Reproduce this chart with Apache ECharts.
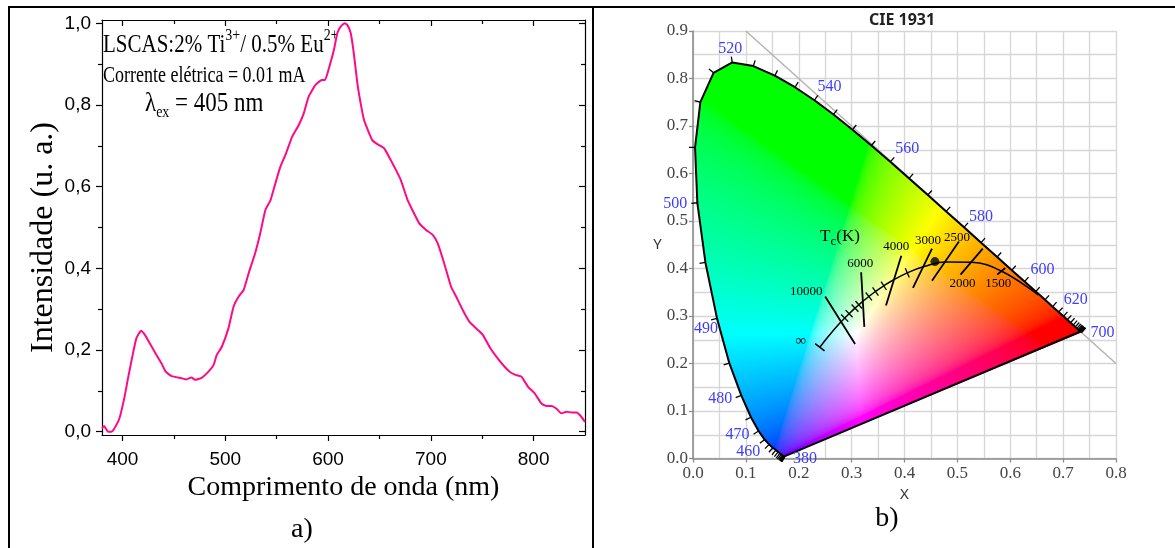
<!DOCTYPE html>
<html><head><meta charset="utf-8">
<script src="https://cdn.jsdelivr.net/npm/echarts@6/dist/echarts.min.js"></script>
<style>html,body{margin:0;padding:0;background:#fff}#c{width:1175px;height:548px}</style>
</head><body><div id="c"></div>
<script>
// ================= Panel a) : emission spectrum =================
const wavelength = [380,382,386,389,392,397,402,405,410,413.5,418,421.7,426.6,433,438,442,447.8,457.5,462,467,470.5,477,483.6,488.5,491.7,496.6,503,508,513,517.8,522.7,529,534,539,544,548.7,553.6,558.5,565,571.5,576.4,581,587.8,594,597,600.8,605.7,609,612.2,616,618.7,622,625,628.5,631.7,635,638,643,648,654.5,661,666,670.8,677.4,682,688.8,695.3,701.8,706.7,713,719.7,724.6,731,737.6,745.8,750.6,757,763.7,771.8,776.7,781.6,788,794.6,801,807.6,812.5,817.4,822,827,832,837,841.8,846,850];
const intensity = [0.008,0.014,0.0,0.0,0.008,0.033,0.086,0.127,0.19,0.229,0.247,0.237,0.216,0.188,0.167,0.147,0.136,0.131,0.128,0.133,0.127,0.132,0.147,0.163,0.188,0.208,0.253,0.306,0.331,0.347,0.388,0.437,0.486,0.543,0.567,0.608,0.649,0.678,0.722,0.751,0.780,0.820,0.849,0.861,0.861,0.890,0.935,0.976,0.992,1.0,0.996,0.976,0.927,0.853,0.804,0.763,0.743,0.714,0.704,0.694,0.665,0.641,0.616,0.567,0.543,0.510,0.494,0.482,0.461,0.412,0.355,0.331,0.298,0.269,0.249,0.237,0.208,0.184,0.159,0.147,0.140,0.135,0.110,0.094,0.069,0.063,0.063,0.057,0.045,0.049,0.047,0.047,0.038,0.024];
const xMajorTicks = [400,500,600,700,800];
const xMinorTicks = [450,550,650,750];
const yMajorTicks = [0,0.2,0.4,0.6,0.8,1.0];
const yTickLabels = ['0,0','0,2','0,4','0,6','0,8','1,0'];
const yMinorTicks = [0.1,0.3,0.5,0.7,0.9];

// ================= Panel b) : CIE 1931 =================
const locusWl = [380,385,390,395,400,405,410,415,420,425,430,435,440,445,450,455,460,465,470,475,480,485,490,495,500,505,510,515,520,525,530,535,540,545,550,555,560,565,570,575,580,585,590,595,600,605,610,615,620,625,630,635,640,645,650,655,660,665,670,675,680,685,690,695,700];
const locusX = [0.1741,0.1740,0.1738,0.1736,0.1733,0.1730,0.1726,0.1721,0.1714,0.1703,0.1689,0.1669,0.1644,0.1611,0.1566,0.1510,0.1440,0.1355,0.1241,0.1096,0.0913,0.0687,0.0454,0.0235,0.0082,0.0039,0.0139,0.0389,0.0743,0.1142,0.1547,0.1929,0.2296,0.2658,0.3016,0.3373,0.3731,0.4087,0.4441,0.4788,0.5125,0.5448,0.5752,0.6029,0.6270,0.6482,0.6658,0.6801,0.6915,0.7006,0.7079,0.7140,0.7190,0.7230,0.7260,0.7283,0.7300,0.7311,0.7320,0.7327,0.7334,0.7340,0.7344,0.7346,0.7347];
const locusY = [0.0050,0.0050,0.0049,0.0049,0.0048,0.0048,0.0048,0.0048,0.0051,0.0058,0.0069,0.0086,0.0109,0.0138,0.0177,0.0227,0.0297,0.0399,0.0578,0.0868,0.1327,0.2007,0.2950,0.4127,0.5384,0.6548,0.7502,0.8120,0.8338,0.8262,0.8059,0.7816,0.7543,0.7243,0.6923,0.6589,0.6245,0.5896,0.5547,0.5202,0.4866,0.4544,0.4242,0.3965,0.3725,0.3514,0.3340,0.3197,0.3083,0.2993,0.2920,0.2859,0.2809,0.2770,0.2740,0.2717,0.2700,0.2689,0.2680,0.2673,0.2666,0.2660,0.2656,0.2654,0.2653];
const labeledWl = [380,460,470,480,490,500,520,540,560,580,600,620,700];
const planckT = ['∞',20000,15000,12000,10000,9000,8000,7000,6500,6000,5500,5000,4500,4000,3500,3000,2500,2000,1500,1000];
const planckX = [0.2399,0.2565,0.2637,0.2719,0.2807,0.2869,0.2952,0.3064,0.3135,0.3221,0.3325,0.3451,0.3608,0.3805,0.4053,0.4369,0.4770,0.5267,0.5857,0.6528];
const planckY = [0.2342,0.2577,0.2673,0.2779,0.2884,0.2956,0.3048,0.3166,0.3237,0.3318,0.3411,0.3516,0.3636,0.3768,0.3907,0.4041,0.4137,0.4133,0.3931,0.3444];
const planckMinorT = [9000,8000,7000,6500,5500,5000,4500,3500];
const isoT  = [10000,6000,4000,3000,2500,2000,1500];
const isoX1 = [0.250,0.318,0.394,0.452,0.503,0.548,0.5905];
const isoY1 = [0.341,0.392,0.427,0.442,0.457,0.442,0.401];
const isoX2 = [0.3065,0.324,0.365,0.416,0.452,0.506,0.5754];
const isoY2 = [0.241,0.277,0.322,0.359,0.374,0.387,0.387];
const sampleX = [0.4575];
const sampleY = [0.4146];
const diagX = [0.1,0.8];
const diagY = [0.9,0.2];

// ================= layout / styles =================
const SERIF = "'Liberation Serif','Times New Roman',serif";
const SANS = "'Liberation Sans',Arial,sans-serif";
const UI = "'Noto Sans','Open Sans',sans-serif";
const PINK = '#ff0a84';
const BLUE = '#3d3dff';
const wlLabelOffset = {380:[20,3],460:[-21,7],470:[-21,4],480:[-21,3],490:[-11,10],500:[-22,1],520:[-2,-14],540:[15,-13],560:[17,-13],580:[17,-11],600:[18,-12],620:[17,-12],700:[21,0]};
const isoLabelOffset = {10000:[1,-19,-5],6000:[1,-1,-9],4000:[1,-5,-9],3000:[1,-4,-8],2500:[1,-2,-4],2000:[2,2,9],1500:[2,1,9]};
// shading: the image's visual white sits lower than D65, so shift before conversion
const WHITE_SHIFT = [0.003, 0.066];

function xyToRGB(x0, y0) {
  const x = x0 + WHITE_SHIFT[0], y = y0 + WHITE_SHIFT[1];
  const X = x / y, Y = 1, Z = (1 - x - y) / y;
  let r = 3.2406*X - 1.5372*Y - 0.4986*Z;
  let g = -0.9689*X + 1.8758*Y + 0.0415*Z;
  let b = 0.0557*X - 0.2040*Y + 1.0570*Z;
  r = Math.max(r,0); g = Math.max(g,0); b = Math.max(b,0);
  const m = Math.max(r,g,b) || 1;
  const gm = c => { c /= m; return c <= 0.0031308 ? 12.92*c : 1.055*Math.pow(c,1/2.4)-0.055; };
  return [gm(r)*255, gm(g)*255, gm(b)*255];
}

let gamutCache = null;
function renderGamut(params, api) {
  const pts = locusX.map((x,i) => api.coord([x, locusY[i]]));
  const p0 = api.coord([0,0]), p1 = api.coord([1,1]);
  const sx = p1[0]-p0[0], sy = p1[1]-p0[1];
  let minX=1e9,minY=1e9,maxX=-1e9,maxY=-1e9;
  pts.forEach(p=>{minX=Math.min(minX,p[0]);minY=Math.min(minY,p[1]);maxX=Math.max(maxX,p[0]);maxY=Math.max(maxY,p[1]);});
  const x0=Math.floor(minX)-1, y0=Math.floor(minY)-1, w=Math.ceil(maxX)-x0+2, h=Math.ceil(maxY)-y0+2;
  if (!gamutCache) {
    const cv = document.createElement('canvas'); cv.width=w; cv.height=h;
    const ctx = cv.getContext('2d');
    const img = ctx.createImageData(w,h);
    for (let j=0;j<h;j++) for (let i=0;i<w;i++) {
      const cx = (x0+i+0.5-p0[0])/sx, cy = (y0+j+0.5-p0[1])/sy;
      const k = (j*w+i)*4;
      if (cy <= 0.001) { img.data[k+3]=0; continue; }
      const c = xyToRGB(cx, cy);
      img.data[k]=c[0]; img.data[k+1]=c[1]; img.data[k+2]=c[2]; img.data[k+3]=255;
    }
    ctx.putImageData(img,0,0);
    ctx.globalCompositeOperation='destination-in';
    ctx.beginPath();
    pts.forEach((p,i)=>{ if(i===0) ctx.moveTo(p[0]-x0,p[1]-y0); else ctx.lineTo(p[0]-x0,p[1]-y0); });
    ctx.closePath(); ctx.fillStyle='#000'; ctx.fill();
    gamutCache = cv;
  }
  return {type:'image', style:{image:gamutCache, x:x0, y:y0, width:w, height:h}};
}

function frameAt(ax, ay, i, api, minDist) {
  const p = api.coord([ax[i], ay[i]]);
  let a=i, b=i, pa=p, pb=p;
  while (Math.hypot(pb[0]-pa[0], pb[1]-pa[1]) < minDist) {
    let moved=false;
    if (a>0) { a--; pa=api.coord([ax[a],ay[a]]); moved=true; }
    if (b<ax.length-1) { b++; pb=api.coord([ax[b],ay[b]]); moved=true; }
    if (!moved) break;
  }
  const dx=pb[0]-pa[0], dy=pb[1]-pa[1], L=Math.hypot(dx,dy)||1;
  return {p, nx:dy/L, ny:-dx/L};
}

function renderLocusTick(params, api) {
  const i = params.dataIndex;
  const f = frameAt(locusX, locusY, i, api, 6);
  const len = 6;
  return {type:'line', shape:{x1:f.p[0], y1:f.p[1], x2:f.p[0]+f.nx*len, y2:f.p[1]+f.ny*len},
    style:{stroke:'#000', lineWidth:1.3}};
}
function renderWlLabel(params, api) {
  const wl = labeledWl[params.dataIndex];
  const i = locusWl.indexOf(wl);
  const p = api.coord([locusX[i], locusY[i]]);
  const o = wlLabelOffset[wl] || [0,0];
  return {type:'text', x:p[0]+o[0], y:p[1]+o[1],
    style:{text:String(wl), fill:BLUE, font:'16px '+SERIF, align:'center', verticalAlign:'middle'}};
}
function renderPlanckTicks(params, api) {
  const children = [];
  planckMinorT.forEach(t => {
    const i = planckT.indexOf(t);
    const f = frameAt(planckX, planckY, i, api, 4);
    children.push({type:'line', shape:{x1:f.p[0]-f.nx*5, y1:f.p[1]-f.ny*5, x2:f.p[0]+f.nx*5, y2:f.p[1]+f.ny*5}, style:{stroke:'#000', lineWidth:1.3}});
  });
  const f0 = frameAt(planckX, planckY, 0, api, 4);
  children.push({type:'line', shape:{x1:f0.p[0]-f0.nx*6, y1:f0.p[1]-f0.ny*6, x2:f0.p[0]+f0.nx*6, y2:f0.p[1]+f0.ny*6}, style:{stroke:'#000', lineWidth:1.5}});
  children.push({type:'text', x:f0.p[0]-19, y:f0.p[1]-6, style:{text:'∞', fill:'#000', font:'15px '+SERIF, align:'center', verticalAlign:'middle'}});
  return {type:'group', children};
}
function renderIso(params, api) {
  const k = params.dataIndex;
  const a = api.coord([isoX1[k], isoY1[k]]), b = api.coord([isoX2[k], isoY2[k]]);
  const o = isoLabelOffset[isoT[k]];
  const base = o[0]===1 ? a : b;
  return {type:'group', children:[
    {type:'line', shape:{x1:a[0],y1:a[1],x2:b[0],y2:b[1]}, style:{stroke:'#000', lineWidth:1.8}},
    {type:'text', x:base[0]+o[1], y:base[1]+o[2], style:{text:String(isoT[k]), fill:'#000', font:'13px '+SERIF, align:'center', verticalAlign:'middle'}}
  ]};
}

const chart = echarts.init(document.getElementById('c'), null, {renderer:'canvas', width:1175, height:548});

const blackLine = {color:'#000', width:1.2};
function axA(dim, pos, ticks, len, inside, showLine, extra) {
  const isX = dim==='x';
  const o = {
    gridIndex:0, type:'value', position:pos,
    min: isX?380:-0.008, max: isX?850:1.008,
    axisLine:{show:showLine, onZero:false, lineStyle:blackLine},
    axisTick:{show:true, customValues:ticks, length:len, inside:inside, lineStyle:blackLine},
    axisLabel:{show:false},
    splitLine:{show:false}
  };
  return Object.assign(o, extra||{});
}

const option = {
  animation:false,
  backgroundColor:'#fff',
  grid:[
    {left:102, top:20, width:483, height:415},
    {left:693, top:31, width:423, height:427.5}
  ],
  xAxis:[
    axA('x','bottom',xMajorTicks,6,false,true,{
      axisLabel:{show:true, customValues:xMajorTicks, fontFamily:SANS, fontSize:19, color:'#000', margin:15},
      name:'Comprimento de onda (nm)', nameLocation:'middle', nameGap:36,
      nameTextStyle:{fontFamily:SERIF, fontSize:28, color:'#000'}}),
    axA('x','bottom',xMinorTicks,4,false,false),
    axA('x','top',xMajorTicks,6,true,true),
    axA('x','top',xMinorTicks,4,true,false),
    {gridIndex:1, type:'value', min:0, max:0.8, interval:0.1, position:'bottom',
      axisLine:{onZero:false, lineStyle:{color:'#8c8c8c', width:1.6}},
      axisTick:{show:true, length:4, lineStyle:{color:'#8c8c8c', width:1.3}},
      axisLabel:{fontFamily:SERIF, fontSize:17, color:'#444', margin:7, formatter:v=>v.toFixed(1)},
      splitLine:{show:true, lineStyle:{color:'#d6d6d6', width:1.3}},
      minorTick:{show:false, splitNumber:2},
      minorSplitLine:{show:true, lineStyle:{color:'#d6d6d6', width:1.3}},
      name:'X', nameLocation:'middle', nameGap:21,
      nameTextStyle:{fontFamily:UI, fontSize:15, color:'#333'}}
  ],
  yAxis:[
    axA('y','left',yMajorTicks,6,false,true,{
      axisLabel:{show:true, customValues:yMajorTicks, fontFamily:SANS, fontSize:19, color:'#000', margin:11,
        formatter:v=>{ const i = yMajorTicks.findIndex(t=>Math.abs(t-v)<1e-6); return i>=0?yTickLabels[i]:''; }},
      name:'Intensidade (u. a.)', nameLocation:'middle', nameGap:42,
      nameTextStyle:{fontFamily:SERIF, fontSize:32, color:'#000', padding:[0,20,0,0]}}),
    axA('y','left',yMinorTicks,4,false,false),
    axA('y','right',yMajorTicks,6,true,true),
    axA('y','right',yMinorTicks,4,true,false),
    {gridIndex:1, type:'value', min:0, max:0.9, interval:0.1, position:'left',
      axisLine:{onZero:false, lineStyle:{color:'#8c8c8c', width:1.6}},
      axisTick:{show:true, length:4, lineStyle:{color:'#8c8c8c', width:1.3}},
      axisLabel:{fontFamily:SERIF, fontSize:17, color:'#444', margin:5, formatter:v=>v.toFixed(1)},
      splitLine:{show:true, lineStyle:{color:'#d6d6d6', width:1.3}},
      minorTick:{show:false, splitNumber:2},
      minorSplitLine:{show:true, lineStyle:{color:'#d6d6d6', width:1.3}},
      name:'Y', nameLocation:'middle', nameGap:30, nameRotate:0,
      nameTextStyle:{fontFamily:UI, fontSize:15, color:'#333'}}
  ],
  series:[
    {type:'line', xAxisIndex:0, yAxisIndex:0, data:wavelength.map((w,i)=>[w,intensity[i]]),
      showSymbol:false, symbol:'none', lineStyle:{color:PINK, width:2}, smooth:0.15},
    {type:'line', xAxisIndex:4, yAxisIndex:4, data:diagX.map((x,i)=>[x,diagY[i]]), symbol:'none',
      lineStyle:{color:'#b4b4b4', width:1.5}, z:1},
    {type:'custom', xAxisIndex:4, yAxisIndex:4, data:[[0,0]], renderItem:renderGamut, z:2, silent:true},
    {type:'line', xAxisIndex:4, yAxisIndex:4, data:locusX.map((x,i)=>[x,locusY[i]]).concat([[locusX[0],locusY[0]]]),
      symbol:'none', lineStyle:{color:'#000', width:2}, z:3},
    {type:'custom', xAxisIndex:4, yAxisIndex:4, data:locusX.map((x,i)=>[x,locusY[i]]), renderItem:renderLocusTick, z:3},
    {type:'custom', xAxisIndex:4, yAxisIndex:4, data:labeledWl.map(w=>[locusX[locusWl.indexOf(w)],locusY[locusWl.indexOf(w)]]), renderItem:renderWlLabel, z:4},
    {type:'line', xAxisIndex:4, yAxisIndex:4, data:planckX.map((x,i)=>[x,planckY[i]]), smooth:0.4,
      symbol:'none', lineStyle:{color:'#000', width:1.5}, z:4},
    {type:'custom', xAxisIndex:4, yAxisIndex:4, data:[[planckX[0],planckY[0]]], renderItem:renderPlanckTicks, z:4},
    {type:'custom', xAxisIndex:4, yAxisIndex:4, data:isoT.map((t,k)=>[isoX1[k],isoY1[k],isoX2[k],isoY2[k]]), renderItem:renderIso, z:4},
    {type:'scatter', xAxisIndex:4, yAxisIndex:4, data:sampleX.map((x,i)=>[x,sampleY[i]]), symbolSize:9,
      itemStyle:{color:'#000'}, z:5}
  ],
  graphic:[
    {type:'line', shape:{x1:8, y1:7, x2:1175, y2:7}, style:{stroke:'#000', lineWidth:2}},
    {type:'line', shape:{x1:9, y1:6, x2:9, y2:548}, style:{stroke:'#000', lineWidth:2}},
    {type:'line', shape:{x1:593, y1:6, x2:593, y2:548}, style:{stroke:'#000', lineWidth:2}},
    {type:'text', x:103, y:27, scaleY:1.2,
      style:{text:'{m|LSCAS:2% Ti}{s|3+}{m|/ 0.5% Eu}{s|2+}', fill:'#000',
        rich:{m:{fontFamily:SERIF, fontSize:21, lineHeight:26, verticalAlign:'bottom'},
              s:{fontFamily:SERIF, fontSize:14, lineHeight:8, verticalAlign:'top'}}}},
    {type:'text', x:103, y:64, scaleY:1.3,
      style:{text:'Corrente elétrica = 0.01 mA', fill:'#000', font:'18px '+SERIF}},
    {type:'text', x:145, y:90, scaleY:1.2,
      style:{text:'{m|λ}{s|ex}{m| = 405 nm}', fill:'#000',
        rich:{m:{fontFamily:SERIF, fontSize:23, lineHeight:23, verticalAlign:'top'},
              s:{fontFamily:SERIF, fontSize:14, lineHeight:26, verticalAlign:'bottom'}}}},
    {type:'text', x:302, y:530, style:{text:'a)', fill:'#000', font:'28px '+SERIF, align:'center', verticalAlign:'middle'}},
    {type:'text', x:887, y:519, style:{text:'b)', fill:'#000', font:'28px '+SERIF, align:'center', verticalAlign:'middle'}},
    {type:'text', x:902, y:20, style:{text:'CIE 1931', fill:'#222', font:'bold 16px '+UI, align:'center', verticalAlign:'middle'}},
    {type:'text', x:840, y:238, style:{text:'{m|T}{s|c}{m|(K)}', fill:'#000', align:'center', verticalAlign:'middle',
      rich:{m:{fontFamily:SERIF, fontSize:17, lineHeight:17, verticalAlign:'top'},
            s:{fontFamily:SERIF, fontSize:13, lineHeight:20, verticalAlign:'bottom'}}}, z:10}
  ]
};
chart.setOption(option);
</script>
</body></html>
